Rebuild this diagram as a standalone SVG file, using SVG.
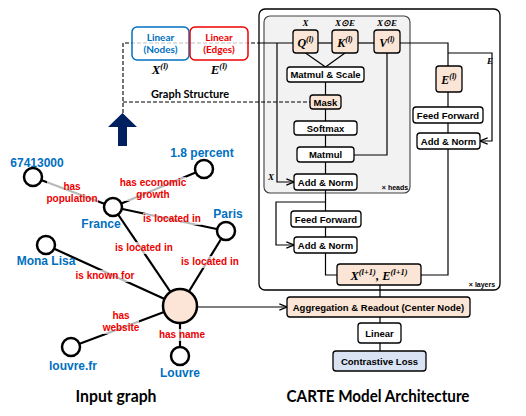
<svg xmlns="http://www.w3.org/2000/svg" width="526" height="416" viewBox="0 0 526 416">
<defs>
<marker id="arr" viewBox="0 0 10 10" refX="9.5" refY="5" markerWidth="9" markerHeight="9" orient="auto" markerUnits="userSpaceOnUse"><path d="M1,1.5 L9.5,5 L1,8.5" fill="none" stroke="#000" stroke-width="1.3"/></marker>
</defs>
<style>
.ln{fill:none;stroke:#000;stroke-width:1.2}
.dash{fill:none;stroke:#000;stroke-width:1.1;stroke-dasharray:4,2}
.edge{stroke:#000;stroke-width:2.2}
.lbg{fill:#fff;opacity:0.72}
.el{font-family:"Liberation Sans",Arial,sans-serif;font-weight:bold;font-size:10px;fill:#e00;text-anchor:middle}
.nl{font-family:"Liberation Sans",Arial,sans-serif;font-weight:bold;font-size:12px;fill:#0070c0;text-anchor:middle}
.nd{fill:#fff;stroke:#000;stroke-width:2.5}
.box{fill:#fff;stroke:#000;stroke-width:1.3}
.pch{fill:#fbe5d6;stroke:#000;stroke-width:1.3}
.bt{font-family:"Liberation Sans",Arial,sans-serif;font-weight:bold;font-size:9.5px;fill:#000;text-anchor:middle}
.mt{font-family:"Liberation Serif","Times New Roman",serif;font-weight:bold;font-style:italic;fill:#000;text-anchor:middle}
.sm{font-family:"Liberation Serif","Times New Roman",serif;font-weight:bold;font-style:italic;font-size:9px;fill:#000;text-anchor:middle}
.tt{font-family:Lato,"Liberation Sans",sans-serif;font-weight:bold;fill:#000;text-anchor:middle}
.lin{font-family:Lato,"Liberation Sans",sans-serif;font-weight:bold;font-size:10px;text-anchor:middle}
.tiny{font-family:"Liberation Sans",Arial,sans-serif;font-weight:bold;font-size:7px;fill:#000;text-anchor:middle}
</style>

<!-- outer and inner containers -->
<g id="layers">
<rect x="259" y="9" width="241" height="281" rx="6" fill="#fff" stroke="#000" stroke-width="1.3"/>
<text class="tiny" x="482" y="287">× layers</text>
</g>
<g id="heads">
<rect x="264" y="16" width="146" height="177" rx="6" fill="#f2f2f2" stroke="#404040" stroke-width="1.1"/>
<text class="tiny" x="395" y="190">× heads</text>
</g>

<!-- connectors -->
<g id="connectors">
<polyline class="dash" points="123,113 123,43 259,43"/>
<line class="ln" x1="259" y1="43" x2="293" y2="43"/>
<line class="dash" x1="123" y1="102" x2="310" y2="102"/>
<line class="ln" x1="318" y1="43" x2="332" y2="43"/>
<line class="ln" x1="358" y1="43" x2="374" y2="43"/>
<polyline class="ln" points="400,43 448,43 448,66"/>
<polyline class="ln" points="448,53 492,53 492,141 480,141" marker-end="url(#arr)"/>
<line class="ln" x1="448" y1="92" x2="448" y2="107"/>
<line class="ln" x1="448" y1="123" x2="448" y2="133"/>
<polyline class="ln" points="448,149 448,275 421,275"/>
<polyline class="ln" points="305.5,53 325.5,67 345,53"/>
<line class="ln" x1="325.5" y1="82" x2="325.5" y2="95"/>
<line class="ln" x1="325.5" y1="109" x2="325.5" y2="121"/>
<line class="ln" x1="325.5" y1="135" x2="325.5" y2="147"/>
<line class="ln" x1="325.5" y1="162" x2="325.5" y2="174"/>
<polyline class="ln" points="387,53 387,155 354,155"/>
<polyline class="ln" points="277,43 277,182 294,182" marker-end="url(#arr)"/>
<line class="ln" x1="325.5" y1="190" x2="325.5" y2="211"/>
<polyline class="ln" points="325.5,202 276,202 276,245 294,245" marker-end="url(#arr)"/>
<line class="ln" x1="325.5" y1="227" x2="325.5" y2="237"/>
<polyline class="ln" points="325.5,253 325.5,275 337,275"/>
<line class="ln" x1="380" y1="285" x2="380" y2="297"/>
<line class="ln" x1="380" y1="317" x2="380" y2="323"/>
<line class="ln" x1="380" y1="343" x2="380" y2="351"/>
<line class="ln" x1="197" y1="307" x2="287" y2="307" marker-end="url(#arr)"/>
<!-- graph edges -->
<line class="edge" x1="33" y1="177" x2="113" y2="207"/>
<line class="edge" x1="113" y1="207" x2="204" y2="169"/>
<line class="edge" x1="113" y1="207" x2="226" y2="231"/>
<line class="edge" x1="113" y1="207" x2="180" y2="306"/>
<line class="edge" x1="226" y1="231" x2="180" y2="306"/>
<line class="edge" x1="46" y1="245" x2="180" y2="306"/>
<line class="edge" x1="71" y1="347" x2="180" y2="306"/>
<line class="edge" x1="180" y1="306" x2="180" y2="356"/>
</g>

<!-- edge labels -->
<g id="edge-labels">
<rect class="lbg" x="47" y="181" width="51" height="24"/>
<text class="el" x="72" y="190">has</text>
<text class="el" x="72" y="202">population</text>
<rect class="lbg" x="121" y="177" width="65" height="24"/>
<text class="el" x="153" y="186">has economic</text>
<text class="el" x="153" y="198">growth</text>
<rect class="lbg" x="143" y="213" width="58" height="12"/>
<text class="el" x="172" y="222">is located in</text>
<rect class="lbg" x="115" y="242" width="58" height="12"/>
<text class="el" x="144" y="251">is located in</text>
<rect class="lbg" x="181" y="256" width="58" height="12"/>
<text class="el" x="210" y="265">is located in</text>
<rect class="lbg" x="76" y="270" width="58" height="12"/>
<text class="el" x="105" y="279">is known for</text>
<rect class="lbg" x="103" y="310" width="36" height="24"/>
<text class="el" x="121" y="319">has</text>
<text class="el" x="121" y="331">website</text>
<rect class="lbg" x="160" y="329" width="45" height="12"/>
<text class="el" x="182" y="338">has name</text>
</g>

<!-- graph nodes -->
<g id="n-67413000"><circle class="nd" cx="33" cy="177" r="9"/><text class="nl" x="37" y="167">67413000</text></g>
<g id="n-percent"><circle class="nd" cx="204" cy="169" r="9"/><text class="nl" x="202" y="157">1.8 percent</text></g>
<g id="n-france"><circle class="nd" cx="113" cy="207" r="9"/><text class="nl" x="101" y="228">France</text></g>
<g id="n-paris"><circle class="nd" cx="226" cy="231" r="9"/><text class="nl" x="228" y="218">Paris</text></g>
<g id="n-monalisa"><circle class="nd" cx="46" cy="245" r="9"/><text class="nl" x="46" y="265">Mona Lisa</text></g>
<g id="n-center"><circle cx="180" cy="306" r="17" fill="#fce4d6" stroke="#000" stroke-width="2.5"/></g>
<g id="n-louvrefr"><circle class="nd" cx="71" cy="347" r="9"/><text class="nl" x="73" y="370">louvre.fr</text></g>
<g id="n-louvre"><circle class="nd" cx="180" cy="356" r="9"/><text class="nl" x="180" y="377">Louvre</text></g>

<!-- left linear boxes -->
<g id="linear-nodes">
<rect x="132" y="27" width="57" height="33" rx="5" fill="#fff" fill-opacity="0.75" stroke="#0070c0" stroke-width="1.5"/>
<text class="lin" x="160.5" y="41" fill="#0070c0">Linear</text>
<text class="lin" x="160.5" y="53" fill="#0070c0">(Nodes)</text>
<text class="mt" x="160" y="74" font-size="13" fill="#0070c0">X<tspan font-size="8.5" dy="-5">(l)</tspan></text>
</g>
<g id="linear-edges">
<rect x="190" y="27" width="58" height="33" rx="5" fill="#fff" fill-opacity="0.75" stroke="#e00" stroke-width="1.5"/>
<text class="lin" x="219" y="41" fill="#e00">Linear</text>
<text class="lin" x="219" y="53" fill="#e00">(Edges)</text>
<text class="mt" x="219" y="74" font-size="13" fill="#e00">E<tspan font-size="8.5" dy="-5">(l)</tspan></text>
</g>
<g id="graph-structure-label">
<text class="tt" x="190" y="98" font-size="11">Graph Structure</text>
</g>
<g id="up-arrow">
<polygon points="122.5,113 108,127 118,127 118,146 127,146 127,127 137,127" fill="#002060"/>
</g>

<!-- attention block -->
<g id="q"><text class="sm" x="305.5" y="26">X</text><rect class="pch" x="293" y="30" width="25" height="23" rx="3"/><text class="mt" x="305.5" y="47" font-size="12">Q<tspan font-size="8" dy="-5">(l)</tspan></text></g>
<g id="k"><text class="sm" x="345" y="26">X⊙E</text><rect class="pch" x="332" y="30" width="26" height="23" rx="3"/><text class="mt" x="345" y="47" font-size="12">K<tspan font-size="8" dy="-5">(l)</tspan></text></g>
<g id="v"><text class="sm" x="387" y="26">X⊙E</text><rect class="pch" x="374" y="30" width="26" height="23" rx="3"/><text class="mt" x="387" y="47" font-size="12">V<tspan font-size="8" dy="-5">(l)</tspan></text></g>
<g id="matmul-scale"><rect class="box" x="287" y="67" width="77" height="15" rx="3"/><text class="bt" x="325.5" y="78">Matmul &amp; Scale</text></g>
<g id="mask"><rect class="pch" x="310" y="95" width="31" height="14" rx="3"/><text class="bt" x="325.5" y="105.5">Mask</text></g>
<g id="softmax"><rect class="box" x="294" y="121" width="63" height="14" rx="3"/><text class="bt" x="325.5" y="131.5">Softmax</text></g>
<g id="matmul"><rect class="box" x="297" y="147" width="57" height="15" rx="3"/><text class="bt" x="325.5" y="158">Matmul</text></g>
<g id="addnorm1"><rect class="box" x="294" y="174" width="63" height="16" rx="3"/><text class="bt" x="325.5" y="185.5">Add &amp; Norm</text><text class="sm" x="271" y="180">X</text></g>
<g id="feedforward1"><rect class="box" x="291" y="211" width="70" height="16" rx="3"/><text class="bt" x="326" y="222.5">Feed Forward</text></g>
<g id="addnorm2"><rect class="box" x="294" y="237" width="63" height="16" rx="3"/><text class="bt" x="325.5" y="248.5">Add &amp; Norm</text></g>
<g id="xe-next"><rect class="pch" x="337" y="264" width="84" height="21" rx="3"/><text class="mt" x="379" y="279.5" font-size="12.5">X<tspan font-size="8.5" dy="-5">(l+1)</tspan><tspan dy="5">, E</tspan><tspan font-size="8.5" dy="-5">(l+1)</tspan></text></g>

<!-- edge path -->
<g id="e-box"><text class="sm" x="490" y="64">E</text><rect class="pch" x="436" y="66" width="26" height="26" rx="3"/><text class="mt" x="449" y="84" font-size="12">E<tspan font-size="8" dy="-5">(l)</tspan></text></g>
<g id="feedforward2"><rect class="box" x="413" y="107" width="70" height="16" rx="3"/><text class="bt" x="448" y="118.5">Feed Forward</text></g>
<g id="addnorm3"><rect class="box" x="417" y="133" width="63" height="16" rx="3"/><text class="bt" x="448.5" y="144.5">Add &amp; Norm</text></g>

<!-- readout -->
<g id="aggregation"><rect class="pch" x="287" y="297" width="183" height="20" rx="3"/><text class="bt" x="378.5" y="310.5">Aggregation &amp; Readout (Center Node)</text></g>
<g id="linear-out"><rect class="box" x="358" y="323" width="43" height="20" rx="3"/><text class="bt" x="379.5" y="336.5">Linear</text></g>
<g id="contrastive"><rect x="333" y="351" width="93" height="20" rx="3" fill="#dae3f3" stroke="#000" stroke-width="1.3"/><text class="bt" x="379.5" y="364.5">Contrastive Loss</text></g>

<g id="titles">
<text class="tt" x="116" y="402" font-size="17" textLength="81" lengthAdjust="spacingAndGlyphs">Input graph</text>
<text class="tt" x="378" y="402" font-size="17" textLength="183" lengthAdjust="spacingAndGlyphs">CARTE Model Architecture</text>
</g>
</svg>
